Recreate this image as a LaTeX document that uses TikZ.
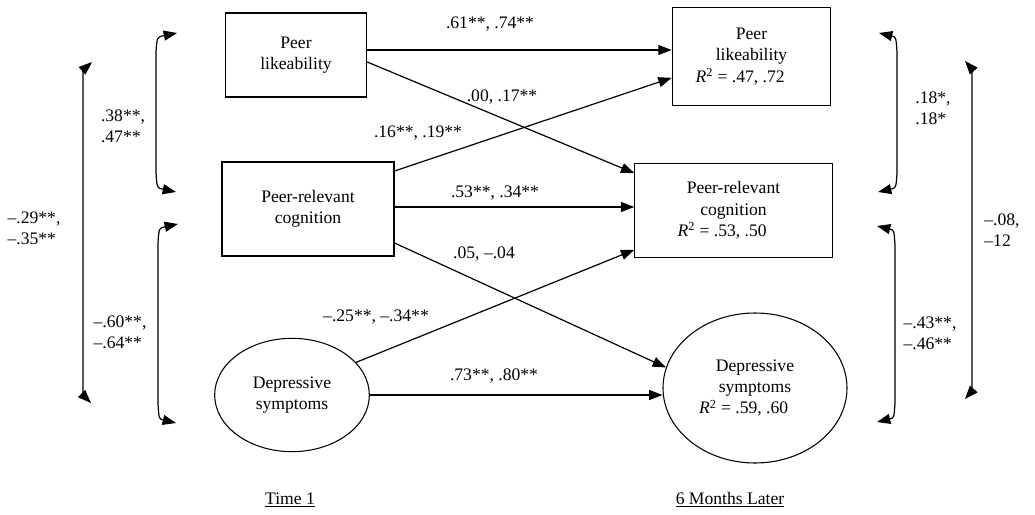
\documentclass[tikz,border=0pt]{standalone}
\usepackage{fontspec}
\setmainfont{Liberation Serif}
\usetikzlibrary{arrows.meta,shapes.geometric}
\newcommand{\rsq}[1]{\textit{R}\textsuperscript{2} = #1\hspace*{17pt}}
\tikzset{
  varbox/.style={draw,line width=0.8pt,rectangle,align=center,inner sep=2pt},
  varell/.style={draw,line width=0.8pt,ellipse,align=center,inner sep=0pt},
  flow/.style={-{Triangle[length=10pt,width=7.5pt]},line width=0.9pt},
  corr/.style={{Triangle[length=10pt,width=7.5pt]}-{Triangle[length=10pt,width=7.5pt]},line width=0.9pt},
  coef/.style={align=left,inner sep=1pt},
  timelabel/.style={inner sep=1pt}
}

\begin{document}
\begin{tikzpicture}[x=0.75pt,y=-0.75pt,font=\fontsize{13.2}{16}\selectfont]
  \useasboundingbox (0,0) rectangle (1035,514);
  % time 1
  \node[varbox,minimum width=106pt,minimum height=63pt] (pl1) at (296,55) {Peer\\likeability};
  \node[varbox,minimum width=129pt,minimum height=70.5pt] (prc1) at (308,209) {Peer-relevant\\cognition};
  \node[varell,minimum width=116pt,minimum height=85pt] (ds1) at (292,395) {Depressive\\symptoms};
  % 6 months later
  \node[varbox,minimum width=119pt,minimum height=74pt] (pl2) at (751.5,56.5) {Peer\\likeability\\\rsq{.47, .72}};
  \node[varbox,minimum width=148pt,minimum height=71pt] (prc2) at (733.5,210.5) {Peer-relevant\\cognition\\\rsq{.53, .50}};
  \node[varell,minimum width=138pt,minimum height=112.5pt] (ds2) at (755,388) {Depressive\\symptoms\\\rsq{.59, .60}};
  % paths
  \draw[flow] ([yshift=3.75pt]pl1.east) -- ([yshift=3.75pt]pl1.east -| pl2.west);
  \draw[flow] ([yshift=-5.25pt]pl1.east) -- ([yshift=28pt]prc2.west);
  \draw[flow] ([yshift=28.5pt]prc1.east) -- ([yshift=-16pt]pl2.west);
  \draw[flow] ([yshift=1.5pt]prc1.east) -- ([yshift=1.5pt]prc1.east -| prc2.west);
  \draw[flow] ([yshift=-25.5pt]prc1.east) -- (ds2.167);
  \draw[flow] (ds1.27) -- ([yshift=-29.5pt]prc2.west);
  \draw[flow] (ds1.east) -- (ds1.east -| ds2.west);
  \node[coef] (c1) at (490,24) {.61**, .74**};
  \node[coef] (c2) at (502,97) {.00, .17**};
  \node[coef] (c3) at (418,133) {.16**, .19**};
  \node[coef] (c4) at (495,193) {.53**, .34**};
  \node[coef] (c5) at (484,254) {.05, –.04};
  \node[coef] (c6) at (376,317) {–.25**, –.34**};
  \node[coef] (c7) at (494,376) {.73**, .80**};
  % correlations
  \coordinate (lpA) at (177,33);
  \coordinate (lpB) at (176,192);
  \coordinate (ldA) at (178,224);
  \coordinate (ldB) at (176,423);
  \coordinate (loA) at (92,62);
  \coordinate (loB) at (91,403);
  \coordinate (rpA) at (879,33);
  \coordinate (rpB) at (878,192);
  \coordinate (rdA) at (877,226);
  \coordinate (rdB) at (877,422);
  \coordinate (roA) at (965,61);
  \coordinate (roB) at (965,399);
  \draw[corr] (lpA) .. controls (157,37) .. (156,52) -- (156,173) .. controls (157,188) .. (lpB);
  \draw[corr] (ldA) .. controls (159,228) .. (158,243) -- (158,404) .. controls (159,419) .. (ldB);
  \draw[corr] (loA) .. controls (83,70) .. (83,85) -- (83,380) .. controls (83,395) .. (loB);
  \draw[corr] (rpA) .. controls (896,37) .. (897,52) -- (897,173) .. controls (896,188) .. (rpB);
  \draw[corr] (rdA) .. controls (894,230) .. (895,245) -- (895,403) .. controls (894,418) .. (rdB);
  \draw[corr] (roA) .. controls (972,69) .. (972,84) -- (972,376) .. controls (972,391) .. (roB);
  \node[coef] (lpl) at (123,126) {.38**,\\.47**};
  \node[coef] (lpd) at (120,332) {–.60**,\\–.64**};
  \node[coef] (lo) at (34,228) {–.29**,\\–.35**};
  \node[coef] (rpl) at (933,108) {.18*,\\.18*};
  \node[coef] (rpd) at (930,333) {–.43**,\\–.46**};
  \node[coef] (ro) at (1002,230) {–.08,\\–12};
  % time labels
  \node[timelabel] (t1) at (290,500) {\underline{Time 1}};
  \node[timelabel] (t2) at (730,500) {\underline{6 Months Later}};
\end{tikzpicture}
\end{document}
